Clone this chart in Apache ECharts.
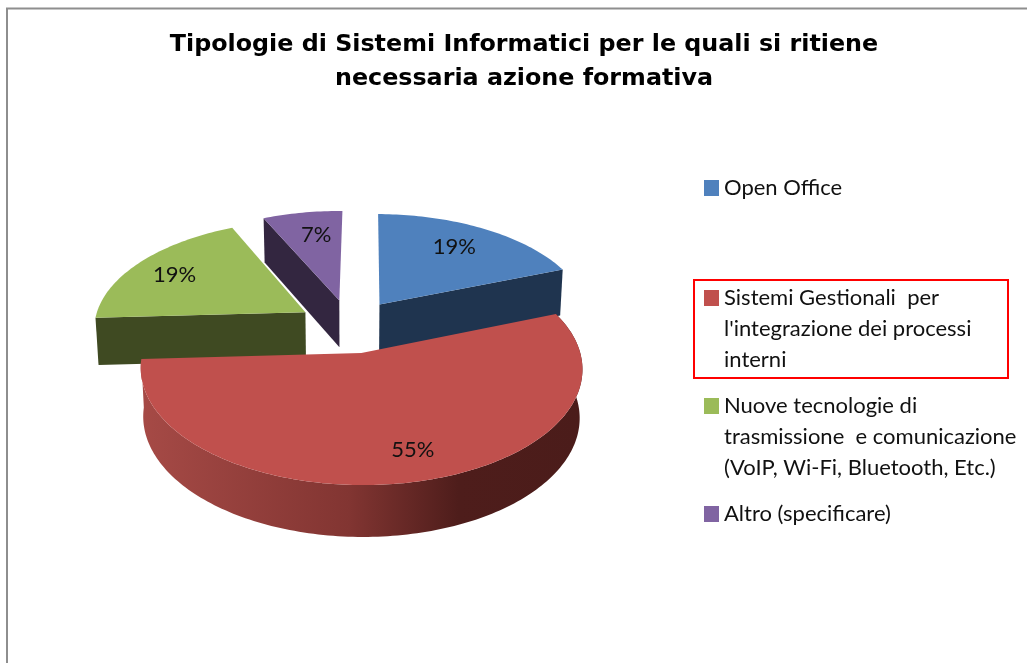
<!DOCTYPE html>
<html>
<head>
<meta charset="utf-8">
<style>html,body{margin:0;padding:0;background:#fff}#c{width:1027px;height:663px}</style>
<script src="https://cdn.jsdelivr.net/npm/echarts@6/dist/echarts.min.js"></script>
</head>
<body>
<div id="c"></div>
<script>
var titleText = "Tipologie di Sistemi Informatici per le quali si ritiene\nnecessaria azione formativa";
var categories = ["Open Office", "Sistemi Gestionali per l'integrazione dei processi interni", "Nuove tecnologie di trasmissione e comunicazione (VoIP, Wi-Fi, Bluetooth, Etc.)", "Altro (specificare)"];
var legendLines = [["Open Office"], ["Sistemi Gestionali  per", "l'integrazione dei processi", "interni"], ["Nuove tecnologie di", "trasmissione  e comunicazione", "(VoIP, Wi-Fi, Bluetooth, Etc.)"], ["Altro (specificare)"]];
var values = [19, 55, 19, 7];
var topColors = ["#4f81bd", "#c0504d", "#9bbb59", "#8064a2"];
var wallColors = ["#1f344f", "#4b1c1a", "#3f4a22", "#332640"];
var drawOrder = [3, 4, 2, 1];
var legendLineCenters = [188, 298, 406, 514];
var labelNudges = [[-4, 0], [13, 5], [-7, 1], [5, 1]];

// projection of the exploded, tilted pie
var view = {cx: 350, cy: 326, rx: 212, ry: 107.3, k: 0.129, depth: 47.5, bottomShrink: 0.988, explode: 0.25, labelR: 0.74, startAngle: 0.0105};
var total = values.reduce(function (a, b) { return a + b; }, 0);

function project(u, v, down) {
  var w = 1 - view.k * v;
  var x = view.rx * u / w, y = view.ry * v / w;
  if (down) { x *= view.bottomShrink; y += view.depth / Math.sqrt(w); }
  return [view.cx + x, view.cy + y];
}
function sliceAngles(i) {
  var before = 0;
  for (var j = 0; j < i; j++) before += values[j];
  return [view.startAngle + before / total * 2 * Math.PI, view.startAngle + (before + values[i]) / total * 2 * Math.PI];
}
function makeRender(i) {
  return function (params, api) {
    var a = sliceAngles(i), mid = (a[0] + a[1]) / 2;
    var ou = Math.sin(mid) * view.explode, ov = -Math.cos(mid) * view.explode;
    var arcTop = [], arcBot = [];
    var n = Math.max(8, Math.round((a[1] - a[0]) / 0.02));
    for (var s = 0; s <= n; s++) {
      var t = a[0] + (a[1] - a[0]) * s / n;
      var u = ou + Math.sin(t), v = ov - Math.cos(t);
      arcTop.push(project(u, v, false));
      arcBot.push(project(u, v, true));
    }
    var apexT = project(ou, ov, false), apexB = project(ou, ov, true);
    var isLargest = values[i] === Math.max.apply(null, values);
    var rimFill = new echarts.graphic.LinearGradient(141, 0, 582, 0, [
      {offset: 0, color: "#a64a46"}, {offset: 0.47, color: "#823532"},
      {offset: 0.72, color: "#4e1d1b"}, {offset: 1, color: "#4b1c1a"}], true);
    var wall = {fill: wallColors[i]};
    var labelU = ou + Math.sin(mid) * view.labelR, labelV = ov - Math.cos(mid) * view.labelR;
    var lp = project(labelU, labelV, false);
    var children = [];
    if (Math.sin(a[0]) < -0.1) children.push({type: "polygon", z2: 1, shape: {points: [apexT, arcTop[0], arcBot[0], apexB]}, style: wall});
    if (Math.sin(a[1]) > 0.1) children.push({type: "polygon", z2: 1, shape: {points: [apexT, arcTop[n], arcBot[n], apexB]}, style: wall});
    if (isLargest) children.push({type: "polygon", z2: 2, shape: {points: arcTop.concat(arcBot.slice().reverse())}, style: {fill: rimFill}});
    children.push({type: "polygon", z2: 3, shape: {points: [apexT].concat(arcTop)}, style: {fill: topColors[i]}});
    children.push({type: "text", z2: 4, x: lp[0] + labelNudges[i][0], y: lp[1] + labelNudges[i][1], style: {text: api.value(0) + "%", fill: "#111", font: "22px Lato", align: "center", verticalAlign: "middle"}});
    return {type: "group", children: children};
  };
}

var series = categories.map(function (name, i) {
  return {type: "custom", name: name, coordinateSystem: "none", z: drawOrder[i], silent: true,
    itemStyle: {color: topColors[i]}, data: [[values[i]]], renderItem: makeRender(i)};
});
var legends = categories.map(function (name, i) {
  var lines = legendLines[i];
  var text = lines.length > 1 ? "\n\n" + lines.join("\n") : lines[0];
  var count = lines.length > 1 ? 5 : 1;
  return {
    left: 704, top: legendLineCenters[i] - count * 31 / 2, padding: 0, orient: "vertical",
    icon: "rect", itemWidth: 15, itemHeight: 16, selectedMode: false,
    data: [{name: name, itemStyle: {color: topColors[i]}}],
    formatter: function () { return text; },
    textStyle: {fontFamily: "Lato", fontSize: 22, lineHeight: 31, color: "#111"}
  };
});

var chart = echarts.init(document.getElementById("c"), null, {renderer: "canvas"});
chart.setOption({
  animation: false,
  backgroundColor: "#ffffff",
  title: {text: titleText, left: 519, top: 23, textAlign: "center",
    textStyle: {fontFamily: "DejaVu Sans", fontWeight: "bold", fontSize: 23.8, lineHeight: 34, color: "#000"}},
  legend: legends,
  series: series,
  graphic: [
    {type: "polyline", silent: true, shape: {points: [[7, 663], [7, 8.5], [1027, 8.5]]}, style: {stroke: "#8e8e8e", lineWidth: 2, fill: null}},
    {type: "rect", silent: true, shape: {x: 694, y: 280, width: 314, height: 98}, style: {stroke: "#ff0000", lineWidth: 2, fill: null}}
  ]
});
</script>
</body>
</html>
